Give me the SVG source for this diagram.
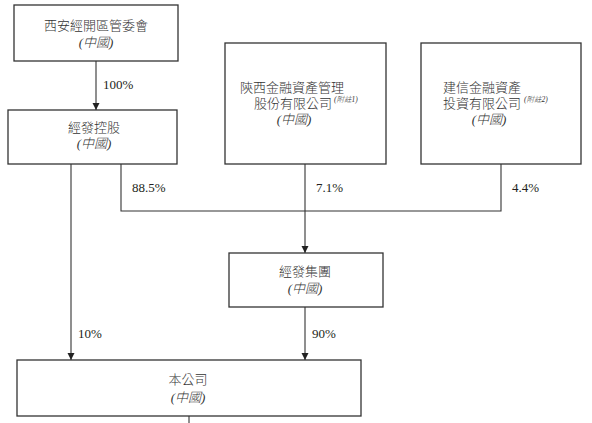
<svg xmlns="http://www.w3.org/2000/svg" width="592" height="423" viewBox="0 0 592 423">
<style>
.box{fill:#fff;stroke:#333;stroke-width:1.3}
.t{font-family:"Liberation Serif","Noto Sans CJK TC",serif;font-size:13px;fill:#231f20}
.k{font-weight:300;fill:#333}
.c{text-anchor:middle}
.i{font-style:italic}
.sup{font-family:"Liberation Serif","Noto Sans CJK TC",serif;font-size:7.5px;font-style:italic;font-weight:300;fill:#333}
.ln{fill:none;stroke:#333;stroke-width:1.1}
</style>
<defs>
<marker id="ah" markerWidth="8" markerHeight="8" refX="7" refY="4" orient="auto" markerUnits="userSpaceOnUse">
<path d="M0,0.5 L7,4 L0,7.5 Z" fill="#222"/>
</marker>
</defs>
<g id="connectors">
<path class="ln" d="M96,61 V110" marker-end="url(#ah)"/>
<path class="ln" d="M71,164 V360" marker-end="url(#ah)"/>
<path class="ln" d="M121,164 V211 H501 V164"/>
<path class="ln" d="M305,164 V253" marker-end="url(#ah)"/>
<path class="ln" d="M305,307 V360" marker-end="url(#ah)"/>
<path class="ln" d="M189,416 V423"/>
<text class="t" x="103" y="89">100%</text>
<text class="t" x="132" y="192">88.5%</text>
<text class="t" x="316" y="192">7.1%</text>
<text class="t" x="512" y="192">4.4%</text>
<text class="t" x="78" y="338">10%</text>
<text class="t" x="312" y="338">90%</text>
</g>
<g id="n1">
<rect class="box" x="14" y="5" width="164" height="56"/>
<text class="t k c" x="96" y="30">西安經開區管委會</text>
<text class="t k c i" x="96" y="47">(中國)</text>
</g>
<g id="n2">
<rect class="box" x="8" y="110" width="169" height="54"/>
<text class="t k c" x="94" y="132">經發控股</text>
<text class="t k c i" x="94" y="148">(中國)</text>
</g>
<g id="n3">
<rect class="box" x="225" y="43" width="161" height="121"/>
<text class="t k" x="240" y="92">陝西金融資產管理</text>
<text class="t k" x="254" y="108">股份有限公司</text>
<text class="sup" x="334" y="102">(附註1)</text>
<text class="t k c i" x="294" y="124">(中國)</text>
</g>
<g id="n4">
<rect class="box" x="421" y="43" width="160" height="121"/>
<text class="t k" x="443" y="92">建信金融資產</text>
<text class="t k" x="443" y="108">投資有限公司</text>
<text class="sup" x="524" y="102">(附註2)</text>
<text class="t k c i" x="489" y="124">(中國)</text>
</g>
<g id="n5">
<rect class="box" x="229" y="253" width="154" height="54"/>
<text class="t k c" x="305" y="276">經發集團</text>
<text class="t k c i" x="305" y="293">(中國)</text>
</g>
<g id="n6">
<rect class="box" x="17" y="360" width="344" height="56"/>
<text class="t k c" x="188" y="384">本公司</text>
<text class="t k c i" x="188" y="402">(中國)</text>
</g>
</svg>
